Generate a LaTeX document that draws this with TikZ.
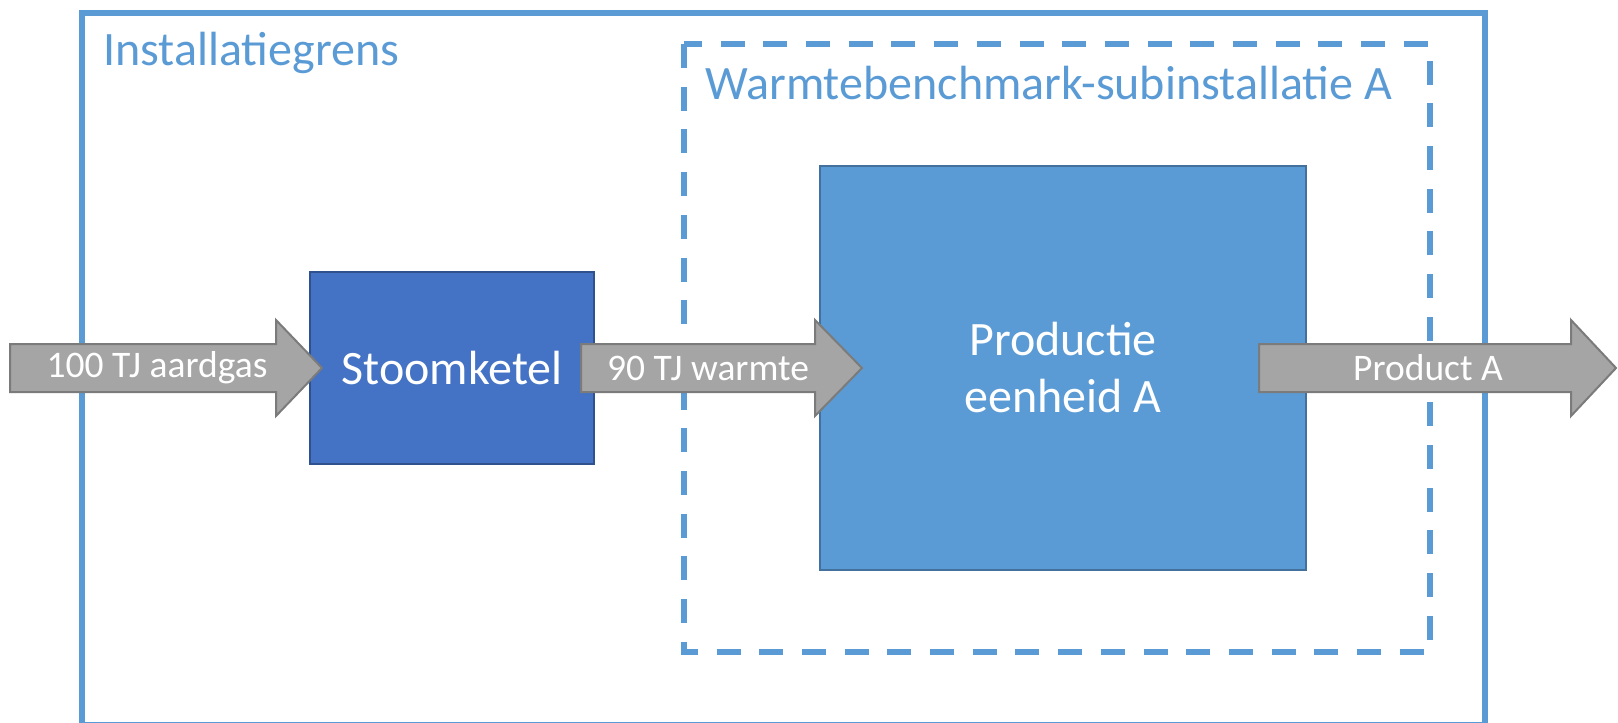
\documentclass[tikz,border=0pt]{standalone}
\usepackage{fontspec}
\setmainfont{Carlito}
\definecolor{lineblue}{HTML}{5B9BD5}
\definecolor{boilerfill}{HTML}{4472C4}
\definecolor{boilerdraw}{HTML}{2F528F}
\definecolor{unitfill}{HTML}{5B9BD5}
\definecolor{unitdraw}{HTML}{41719C}
\definecolor{flowfill}{HTML}{A5A5A5}
\definecolor{flowdraw}{HTML}{7B7B7B}
\tikzset{
  boundary/.style={draw=lineblue, line width=6pt},
  subboundary/.style={draw=lineblue, line width=6pt, dash pattern=on 24pt off 18.7pt},
  boundarylabel/.style={text=lineblue, font=\fontsize{48}{57}\selectfont, inner sep=0pt, anchor=base west},
  boilerbox/.style={fill=boilerfill, draw=boilerdraw, line width=2pt},
  unitbox/.style={fill=unitfill, draw=unitdraw, line width=2pt},
  boxtext/.style={text=white, font=\fontsize{48}{57}\selectfont, align=center, inner sep=0pt},
  flowarrow/.style={fill=flowfill, draw=flowdraw, line width=2pt, line join=miter},
  flowtext/.style={text=white, font=\fontsize{37.5}{44}\selectfont, inner sep=0pt},
}
\begin{document}
\begin{tikzpicture}[x=1pt,y=-1pt]
  \useasboundingbox (0,0) rectangle (1618,723);
  \begin{scope}
    \clip (0,0) rectangle (1618,723);
    % installation boundary and heat benchmark sub-installation
    \draw[boundary] (82,13) rectangle (1485,725);
    \draw[subboundary] (684,44) rectangle (1430,652);
  \end{scope}
  \node[boundarylabel] (instlabel) at (103,65) {Installatiegrens};
  \node[boundarylabel] (sublabel) at (705,99) {Warmtebenchmark-subinstallatie A};

  % process blocks
  \draw[boilerbox] (310,272) rectangle (594,464);
  \node[boxtext] (ketel) at (452,368) {Stoomketel};
  \draw[unitbox] (820,166) rectangle (1306,570);
  \node[boxtext] (eenheid) at (1063,367) {Productie\\eenheid A};

  % energy and product flows
  \draw[flowarrow] (10,344) -- (276,344) -- (276,320) -- (322,368) -- (276,416) -- (276,392) -- (10,392) -- cycle;
  \node[flowtext] (gas) at (157,368) {100 TJ aardgas};
  \draw[flowarrow] (581,344) -- (815,344) -- (815,320) -- (862,368) -- (815,416) -- (815,392) -- (581,392) -- cycle;
  \node[flowtext] (warmte) at (708,368) {90 TJ warmte};
  \draw[flowarrow] (1259,344) -- (1571,344) -- (1571,320) -- (1616,368) -- (1571,416) -- (1571,392) -- (1259,392) -- cycle;
  \node[flowtext] (product) at (1428,368) {Product A};
\end{tikzpicture}
\end{document}
